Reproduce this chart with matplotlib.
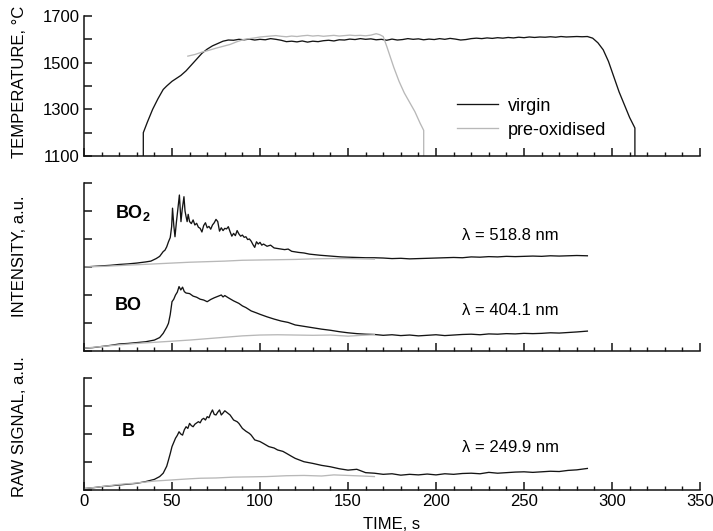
"""Temperature and emission-intensity traces for virgin vs pre-oxidised samples.

Three stacked panels sharing the time axis; saves ``out.png``.
"""

import matplotlib.pyplot as plt
from matplotlib.ticker import MultipleLocator

plt.rcParams["font.family"] = ["Liberation Sans", "DejaVu Sans"]
plt.rcParams["mathtext.fontset"] = "custom"
plt.rcParams["mathtext.rm"] = "Liberation Sans"
plt.rcParams["mathtext.bf"] = "Liberation Sans:bold"

BLACK = "#141414"
GREY = "#b8b8b8"

# --- temperature, virgin -------------------------------------------------
temp_virgin_t = [
    33.7, 33.7, 36, 39, 42, 45, 47, 50, 53, 55, 58, 61, 64, 67, 70, 73, 76, 79,
    82, 85, 88, 91, 94, 97, 100, 103, 106, 109, 112, 115, 118, 121, 124, 127,
    130, 133, 136, 139, 142, 145, 148, 151, 154, 157, 160, 163, 166, 169, 172,
    175, 178, 181, 184, 187, 190, 193, 196, 199, 202, 205, 208, 211, 214, 217,
    220, 223, 226, 229, 232, 235, 238, 241, 244, 247, 250, 253, 256, 259, 262,
    265, 268, 271, 274, 277, 280, 283, 286, 289, 292, 295, 298, 301, 304, 307,
    310, 313, 313,
]
temp_virgin = [
    1100, 1200, 1245, 1300, 1345, 1385, 1400, 1420, 1435, 1445, 1465, 1490,
    1515, 1540, 1558, 1572, 1582, 1592, 1597, 1596, 1600, 1598, 1601, 1597,
    1600, 1598, 1603, 1600, 1596, 1590, 1592, 1589, 1593, 1588, 1592, 1590,
    1594, 1596, 1593, 1598, 1597, 1601, 1599, 1603, 1600, 1602, 1598, 1600,
    1596, 1601, 1597, 1599, 1603, 1600, 1602, 1598, 1601, 1599, 1603, 1600,
    1604, 1601, 1597, 1599, 1603, 1605, 1603, 1606, 1604, 1607, 1605, 1608,
    1606, 1609, 1607, 1610, 1608, 1610, 1609, 1611, 1609, 1612, 1610, 1611,
    1612, 1611, 1612, 1605, 1585, 1555, 1505, 1440, 1375, 1320, 1265, 1220,
    1100,
]

# --- temperature, pre-oxidised ---------------------------------------------
temp_preox_t = [
    59, 63, 67, 71, 75, 79, 83, 87, 91, 94, 97, 100, 103, 106, 109, 112, 115,
    118, 121, 124, 127, 130, 133, 136, 139, 142, 145, 148, 151, 154, 157, 160,
    163, 166, 168, 170, 172, 174, 176, 179, 182, 185, 188, 191, 193, 193,
]
temp_preox = [
    1528, 1535, 1545, 1553, 1562, 1570, 1578, 1590, 1600, 1603, 1606, 1610,
    1612, 1614, 1616, 1613, 1611, 1614, 1612, 1615, 1617, 1614, 1616, 1613,
    1615, 1617, 1614, 1616, 1618, 1616, 1617, 1615, 1618, 1624, 1620, 1612,
    1570, 1525, 1480, 1420, 1370, 1330, 1290, 1240, 1210, 1100,
]

# --- BO2 emission (offset by 3 units) ------------------------------------
bo2_virgin_t = [
    0, 5, 10, 15, 20, 25, 30, 35, 38, 41, 43, 45, 46, 47, 48, 49, 49.8, 50.3,
    51, 51.7, 52.5, 53.3, 54.2, 55.1, 55.8, 56.8, 57.4, 58, 58.6, 59.2, 60, 61,
    62, 63, 64, 65, 66, 67, 68, 69, 70, 71, 72, 73, 74, 75, 76, 77, 78, 79, 80,
    81, 82, 83, 84, 85, 86, 87, 88, 89, 90, 91, 92, 93, 94, 95, 96, 97, 98, 99,
    100, 101, 102, 104, 106, 108, 110, 112, 114, 116, 118, 120, 122, 125, 128,
    131, 134, 138, 142, 146, 150, 155, 160, 165, 170, 175, 180, 185, 190, 195,
    200, 205, 210, 215, 220, 225, 230, 235, 240, 245, 250, 255, 260, 265, 270,
    275, 280, 286,
]
bo2_virgin = [
    3.00, 3.02, 3.04, 3.06, 3.09, 3.11, 3.14, 3.18, 3.21, 3.30, 3.38, 3.55,
    3.60, 3.72, 3.90, 4.05, 4.44, 5.10, 4.50, 4.08, 4.60, 5.05, 5.57, 4.62,
    5.05, 5.51, 5.00, 4.80, 4.62, 4.88, 4.62, 4.55, 4.68, 4.50, 4.56, 4.42,
    4.38, 4.25, 4.48, 4.58, 4.40, 4.45, 4.35, 4.50, 4.58, 4.70, 4.62, 4.28,
    4.40, 4.30, 4.38, 4.36, 4.44, 4.26, 4.10, 4.20, 4.12, 4.30, 4.18, 4.10,
    4.14, 4.06, 4.08, 3.98, 4.00, 3.92, 3.80, 3.70, 3.90, 3.82, 3.88, 3.78,
    3.82, 3.74, 3.78, 3.68, 3.66, 3.64, 3.62, 3.64, 3.56, 3.54, 3.52, 3.50,
    3.46, 3.44, 3.42, 3.40, 3.38, 3.36, 3.35, 3.34, 3.33, 3.33, 3.32, 3.30,
    3.31, 3.29, 3.30, 3.31, 3.32, 3.33, 3.34, 3.33, 3.36, 3.35, 3.37, 3.36,
    3.38, 3.37, 3.38, 3.39, 3.38, 3.40, 3.39, 3.40, 3.41, 3.40,
]
bo2_preox_t = [0, 10, 20, 30, 40, 50, 60, 70, 80, 90, 100, 110, 120, 130,
               140, 150, 158, 165]
bo2_preox = [3.00, 3.02, 3.05, 3.08, 3.11, 3.14, 3.17, 3.19, 3.21, 3.24,
             3.25, 3.26, 3.27, 3.29, 3.30, 3.30, 3.29, 3.28]

# --- BO emission ------------------------------------------------------------
bo_virgin_t = [
    0, 5, 10, 15, 20, 25, 30, 35, 40, 43, 45, 47, 48, 49, 50, 51, 52, 53, 54,
    55, 56, 57, 58, 60, 62, 64, 66, 68, 70, 71, 72, 74, 76, 78, 79, 80, 82, 85,
    88, 90, 92, 95, 98, 100, 104, 108, 112, 116, 120, 125, 130, 135, 140, 145,
    150, 155, 160, 165, 170, 175, 180, 185, 190, 195, 200, 205, 210, 215, 220,
    225, 230, 235, 240, 245, 250, 255, 260, 265, 270, 275, 280, 286,
]
bo_virgin = [
    0.10, 0.12, 0.16, 0.20, 0.25, 0.27, 0.30, 0.33, 0.39, 0.48, 0.63, 0.85,
    0.99, 1.30, 1.76, 1.85, 2.00, 2.10, 2.30, 2.18, 2.28, 2.12, 2.07, 2.05,
    1.96, 1.92, 1.85, 1.82, 1.76, 1.80, 1.84, 1.90, 1.95, 2.00, 1.93, 1.98,
    1.90, 1.79, 1.70, 1.61, 1.55, 1.43, 1.36, 1.31, 1.22, 1.14, 1.07, 1.02,
    0.93, 0.88, 0.83, 0.78, 0.74, 0.69, 0.65, 0.62, 0.60, 0.59, 0.56, 0.58,
    0.55, 0.57, 0.54, 0.56, 0.58, 0.55, 0.57, 0.59, 0.60, 0.58, 0.61, 0.60,
    0.62, 0.61, 0.63, 0.62, 0.63, 0.65, 0.64, 0.66, 0.68, 0.71,
]
bo_preox_t = [0, 10, 20, 30, 40, 50, 60, 70, 80, 90, 100, 110, 120, 130, 140,
              150, 158, 165]
bo_preox = [0.10, 0.16, 0.22, 0.27, 0.31, 0.35, 0.39, 0.44, 0.49, 0.54, 0.57,
            0.58, 0.57, 0.56, 0.57, 0.53, 0.56, 0.58]

# --- B raw signal ------------------------------------------------------------
b_virgin_t = [
    0, 5, 10, 15, 20, 25, 30, 35, 40, 43, 45, 47, 48, 49, 50, 51, 52, 53, 54,
    55, 56, 57, 58, 59, 60, 61, 62, 63, 65, 66, 67, 68, 69, 70, 71, 72, 73, 74,
    75, 76, 77, 78, 79, 80, 81, 83, 85, 87, 88, 90, 92, 94, 95, 97, 100, 102,
    105, 108, 110, 113, 115, 118, 120, 125, 130, 135, 140, 145, 150, 155, 160,
    165, 170, 175, 180, 185, 190, 195, 200, 205, 210, 215, 220, 225, 230, 235,
    240, 245, 250, 255, 260, 265, 270, 275, 280, 286,
]
b_virgin = [
    0.05, 0.08, 0.12, 0.15, 0.18, 0.21, 0.24, 0.30, 0.38, 0.48, 0.60, 0.85,
    1.07, 1.30, 1.55, 1.70, 1.85, 1.95, 2.08, 2.00, 1.96, 2.15, 2.26, 2.20,
    2.38, 2.30, 2.26, 2.35, 2.44, 2.40, 2.52, 2.56, 2.50, 2.62, 2.58, 2.74,
    2.86, 2.70, 2.68, 2.78, 2.86, 2.68, 2.75, 2.83, 2.78, 2.68, 2.50, 2.44,
    2.38, 2.20, 2.10, 2.02, 1.96, 1.79, 1.73, 1.66, 1.55, 1.50, 1.43, 1.38,
    1.31, 1.20, 1.13, 1.01, 0.95, 0.88, 0.83, 0.76, 0.71, 0.74, 0.62, 0.60,
    0.56, 0.58, 0.53, 0.56, 0.54, 0.57, 0.54, 0.58, 0.56, 0.59, 0.60, 0.58,
    0.63, 0.60, 0.62, 0.64, 0.65, 0.63, 0.65, 0.67, 0.66, 0.70, 0.72, 0.77,
]
b_preox_t = [0, 10, 20, 30, 40, 50, 60, 66, 75, 85, 95, 104, 115, 125, 135,
             142, 150, 158, 165]
b_preox = [0.05, 0.12, 0.20, 0.25, 0.32, 0.36, 0.40, 0.42, 0.43, 0.46, 0.47,
           0.48, 0.51, 0.52, 0.50, 0.54, 0.52, 0.50, 0.48]


def style_axis(ax, show_xlabels):
    for side in ("top", "right"):
        ax.spines[side].set_visible(False)
    for side in ("left", "bottom"):
        ax.spines[side].set_linewidth(1.1)
        ax.spines[side].set_color(BLACK)
    ax.set_xlim(0, 350)
    ax.xaxis.set_major_locator(MultipleLocator(50))
    ax.xaxis.set_minor_locator(MultipleLocator(10))
    ax.tick_params(which="major", direction="in", length=6, width=1.1,
                   labelsize=12, color=BLACK, pad=3)
    ax.tick_params(which="minor", direction="in", length=3, width=1.0,
                   color=BLACK)
    ax.tick_params(axis="x", labelbottom=show_xlabels)


fig = plt.figure(figsize=(7.13, 5.31), dpi=100)
ax_t = fig.add_axes([0.1178, 0.7062, 0.864, 0.2637])
ax_i = fig.add_axes([0.1178, 0.3390, 0.864, 0.3164])
ax_b = fig.add_axes([0.1178, 0.0772, 0.864, 0.2109])

# temperature panel
ax_t.plot(temp_virgin_t, temp_virgin, color=BLACK, lw=0.95, label="virgin")
ax_t.plot(temp_preox_t, temp_preox, color=GREY, lw=0.95, label="pre-oxidised")
style_axis(ax_t, False)
ax_t.set_ylim(1100, 1700)
ax_t.set_yticks(range(1100, 1701, 100))
ax_t.set_yticklabels(["1100", "", "1300", "", "1500", "", "1700"])
ax_t.legend(loc="center left", bbox_to_anchor=(0.605, 0.27), frameon=False,
            fontsize=13, handlelength=2.3, handletextpad=0.55,
            labelspacing=0.4, borderpad=0, borderaxespad=0)

# intensity panel
ax_i.plot(bo2_virgin_t, bo2_virgin, color=BLACK, lw=0.95)
ax_i.plot(bo2_preox_t, bo2_preox, color=GREY, lw=0.95)
ax_i.plot(bo_virgin_t, bo_virgin, color=BLACK, lw=0.95)
ax_i.plot(bo_preox_t, bo_preox, color=GREY, lw=0.95)
style_axis(ax_i, False)
ax_i.set_ylim(0, 6)
ax_i.set_yticks(range(0, 7))
ax_i.set_yticklabels([])
ax_i.text(17.6, 4.93, r"$\mathbf{BO_2}$", fontsize=13, va="center")
ax_i.text(17.6, 1.64, "BO", fontsize=13, fontweight="bold", va="center")
ax_i.text(215, 4.14, "\u03bb = 518.8 nm", fontsize=12, va="center")
ax_i.text(215, 1.46, "\u03bb = 404.1 nm", fontsize=12, va="center")

# raw signal panel
ax_b.plot(b_virgin_t, b_virgin, color=BLACK, lw=0.95)
ax_b.plot(b_preox_t, b_preox, color=GREY, lw=0.95)
style_axis(ax_b, True)
ax_b.set_ylim(0, 4)
ax_b.set_yticks(range(0, 5))
ax_b.set_yticklabels([])
ax_b.text(21.6, 2.08, "B", fontsize=13, fontweight="bold", va="center")
ax_b.text(215, 1.52, "\u03bb = 249.9 nm", fontsize=12, va="center")

# axis titles placed by hand to match the original layout
fig.text(20 / 713, 1 - 82 / 531, "TEMPERATURE, \u00b0C", rotation=90,
         fontsize=12, ha="center", va="center")
fig.text(20 / 713, 1 - 256 / 531, "INTENSITY, a.u.", rotation=90,
         fontsize=12, ha="center", va="center")
fig.text(20 / 713, 1 - 427 / 531, "RAW SIGNAL, a.u.", rotation=90,
         fontsize=12, ha="center", va="center")
fig.text(392 / 713, 2 / 531, "TIME, s", fontsize=12,
         ha="center", va="baseline")

fig.savefig("out.png", dpi=100)
